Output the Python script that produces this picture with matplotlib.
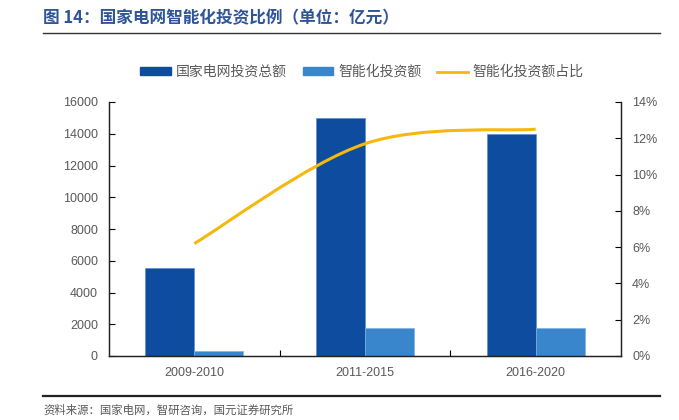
import numpy as np
import matplotlib
matplotlib.use('Agg')
import matplotlib.pyplot as plt
from matplotlib.path import Path
from matplotlib.patches import PathPatch, Patch
from matplotlib.lines import Line2D
from matplotlib.ticker import FuncFormatter

plt.rcParams['font.family'] = ['Liberation Sans', 'Noto Sans CJK SC', 'DejaVu Sans']

# data
periods = ['2009-2010', '2011-2015', '2016-2020']
total_inv = [5550, 15000, 14000]      # 国家电网投资总额 (亿元)
smart_inv = [345, 1750, 1750]         # 智能化投资额 (亿元)
smart_pct = [6.2, 11.7, 12.5]         # 智能化投资额占比 (%)

c_dark = '#0D4C9E'
c_light = '#3A86CD'
c_line = '#F5B80E'
c_text = '#595959'
cjk = ['Noto Sans CJK SC', 'DejaVu Sans']

fig = plt.figure(figsize=(6.79, 4.2), dpi=100)
ax = fig.add_axes([109/679, 1-356/420, 512/679, 254/420])
ax2 = ax.twinx()

x = np.arange(len(periods))
w = 0.287
ax.bar(x - w/2, total_inv, w, color=c_dark, edgecolor='#5A8FD0', linewidth=0.5)
ax.bar(x + w/2, smart_inv, w, color=c_light, edgecolor='#7FB2E5', linewidth=0.5)
ax.set_xlim(-0.5, 2.5)
ax.set_ylim(0, 16000)
ax.set_yticks(np.arange(0, 16001, 2000))
ax.set_xticks(x)
ax.set_xticklabels(periods)
ax.set_xticks([0.5, 1.5], minor=True)
ax.tick_params(axis='x', which='major', length=0, pad=8, labelsize=9, labelcolor=c_text)
ax.tick_params(axis='x', which='minor', direction='in', length=4, width=0.8)
ax.tick_params(axis='y', direction='in', length=4, width=0.8, labelsize=9, labelcolor=c_text, pad=8)

# smoothed line (bezier through the points, like excel smoothing)
pts = np.column_stack([x, smart_pct]).astype(float)
verts = [pts[0]]
codes = [Path.MOVETO]
n = len(pts)
for i in range(n - 1):
    p0 = pts[i - 1] if i > 0 else pts[i]
    p1 = pts[i]
    p2 = pts[i + 1]
    p3 = pts[i + 2] if i + 2 < n else pts[i + 1]
    c1 = p1 + (p2 - p0) / 6
    c2 = p2 - (p3 - p1) / 6
    verts += [c1, c2, p2]
    codes += [Path.CURVE4] * 3
ax2.add_patch(PathPatch(Path(verts, codes), fill=False, edgecolor=c_line, lw=2.2, capstyle='butt'))
ax2.set_ylim(0, 14)
ax2.set_yticks(np.arange(0, 15, 2))
ax2.yaxis.set_major_formatter(FuncFormatter(lambda v, p: '%d%%' % v))
ax2.tick_params(axis='y', direction='in', length=4, width=0.8, labelsize=9, labelcolor=c_text, pad=8)

for a in (ax, ax2):
    a.spines['top'].set_visible(False)
    for s in ('left', 'right', 'bottom'):
        a.spines[s].set_linewidth(0.9)
        a.spines[s].set_color('#222222')

handles = [Patch(color=c_dark), Patch(color=c_light), Line2D([], [], color=c_line, lw=2)]
labels = ['国家电网投资总额', '智能化投资额', '智能化投资额占比']
fig.legend(handles, labels, loc='center', bbox_to_anchor=(362/679, 1-72/420), ncol=3, frameon=False,
           prop={'family': cjk, 'size': 10}, labelcolor=c_text, handlelength=2.2,
           handleheight=0.45, columnspacing=1.15, handletextpad=0.36)

fig.text(43/679, 1-18/420, '图 14：国家电网智能化投资比例（单位：亿元）', family=cjk,
         fontsize=12, fontweight='bold', color='#2F5597', va='center')
fig.add_artist(plt.Line2D([43/679, 660/679], [1-33/420, 1-33/420], color='#333333', lw=1.0))
fig.add_artist(plt.Line2D([43/679, 660/679], [1-396/420, 1-396/420], color='#222222', lw=1.6))
fig.text(43/679, 1-410/420, '资料来源：国家电网，智研咨询，国元证券研究所', family=cjk,
         fontsize=8.2, color=c_text, va='center')

fig.savefig('out.png', dpi=100)
